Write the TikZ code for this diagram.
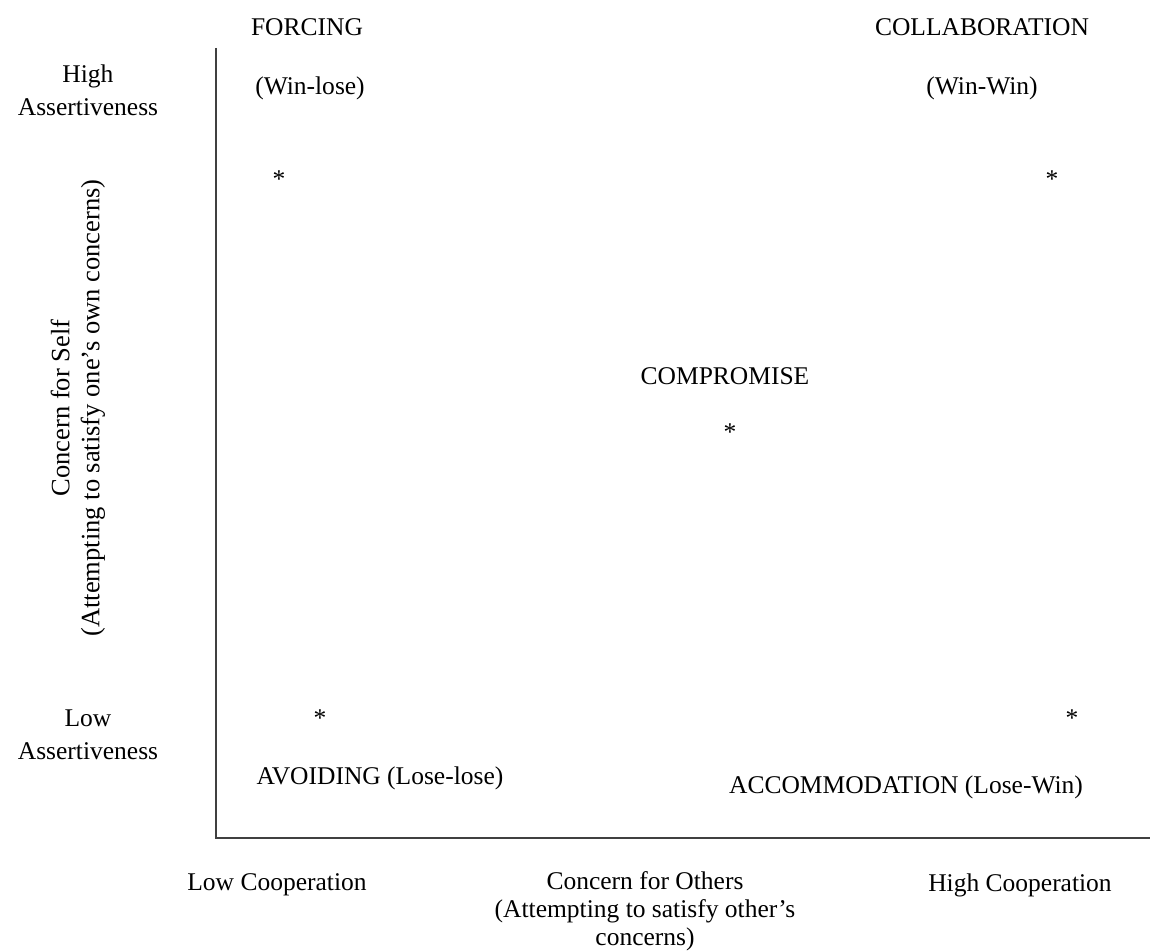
\documentclass[tikz,border=0pt]{standalone}
\usepackage{fontspec}
\setmainfont{Liberation Serif}
\begin{document}
\begin{tikzpicture}[x=0.5pt,y=-0.5pt,
  lbl/.style={inner sep=0pt,align=center,font=\fontsize{12.75}{14.5}\selectfont,text=black},
  widelbl/.style={lbl,font=\fontsize{12.75}{16.5}\selectfont},
  tightlbl/.style={lbl,font=\fontsize{12.75}{14}\selectfont},
  rotlbl/.style={lbl,font=\fontsize{13.25}{15}\selectfont},
  star/.style={inner sep=0pt,font=\fontsize{12.75}{14.5}\selectfont},
  axis/.style={draw=black!75,line width=1pt}]
\useasboundingbox (0,0) rectangle (1150,951);
% axes
\coordinate (ytop) at (216,48);
\coordinate (origin) at (216,838);
\coordinate (xend) at (1150,838);
\draw[axis] (ytop) -- (origin) -- (xend);
% y-axis labels
\node[widelbl] (high) at (88,90) {High\\Assertiveness};
\node[widelbl] (low) at (88,735) {Low\\Assertiveness};
\node[rotlbl,rotate=90] (ylab) at (78,408) {Concern for Self\\(Attempting to satisfy one’s own concerns)};
% x-axis labels
\node[lbl] (lowc) at (277,885) {Low Cooperation};
\node[tightlbl] (xlab) at (645,911) {Concern for Others\\(Attempting to satisfy other’s\\concerns)};
\node[lbl] (highc) at (1020,885) {High Cooperation};
% styles
\node[lbl] (forcing) at (307,27) {FORCING};
\node[lbl] (winlose) at (310,88) {(Win-lose)};
\node[lbl] (collab) at (982,27) {COLLABORATION};
\node[lbl] (winwin) at (982,88) {(Win-Win)};
\node[lbl] (compromise) at (725,376) {COMPROMISE};
\node[lbl] (avoiding) at (380,778) {AVOIDING (Lose-lose)};
\node[lbl] (accom) at (906,787) {ACCOMMODATION (Lose-Win)};
% asterisks
\node[star] (s1) at (279,179) {*};
\node[star] (s2) at (1052,179) {*};
\node[star] (s3) at (730,432) {*};
\node[star] (s4) at (320,718) {*};
\node[star] (s5) at (1072,718) {*};
\end{tikzpicture}
\end{document}
